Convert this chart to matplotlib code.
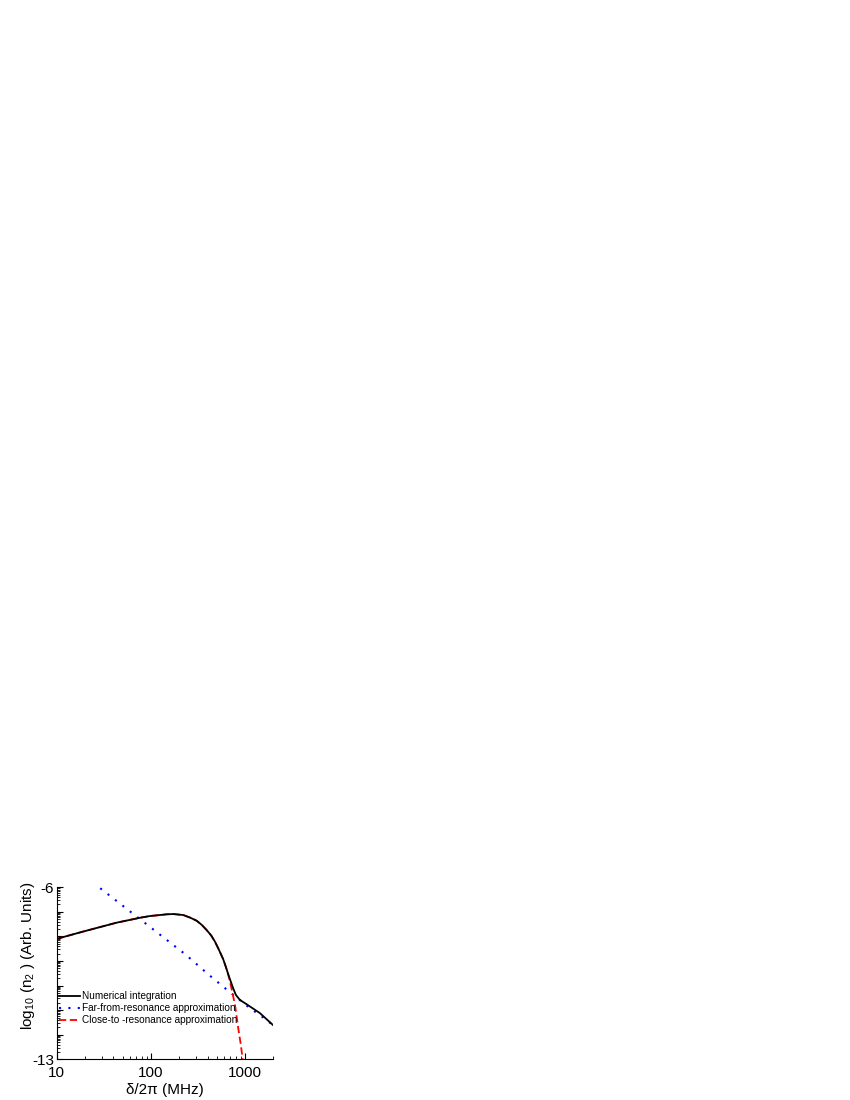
import numpy as np
import matplotlib
matplotlib.use('Agg')
import matplotlib.pyplot as plt
from matplotlib.ticker import LogLocator, FixedLocator, FuncFormatter, NullFormatter

plt.rcParams['font.family'] = ['Liberation Sans', 'DejaVu Sans']
plt.rcParams['mathtext.fontset'] = 'custom'
plt.rcParams['mathtext.rm'] = 'Liberation Sans'
plt.rcParams['mathtext.it'] = 'Liberation Sans'
plt.rcParams['axes.unicode_minus'] = False

# numerical integration (delta/2pi in MHz, log10 n2)
num_freq = [10, 19.2, 43.4, 77, 98, 125, 148, 173, 221, 263, 306, 347, 391, 437, 479,
            525, 587, 631, 664, 708, 750, 800, 847, 871, 912, 1040, 1439, 2000]
num_logn = [-8.10, -7.80, -7.44, -7.24, -7.17, -7.13, -7.10, -7.09, -7.13, -7.24, -7.36,
            -7.53, -7.74, -7.96, -8.21, -8.52, -8.93, -9.28, -9.55, -9.85, -10.12, -10.38,
            -10.50, -10.56, -10.62, -10.76, -11.12, -11.62]

# far-from-resonance approximation
far_freq = [29, 236, 406, 692, 1127, 1439, 2000]
far_logn = [-6.04, -8.75, -9.54, -10.27, -10.92, -11.20, -11.62]

# close-to-resonance approximation
close_freq = [10, 19.2, 43.4, 77, 98, 125, 148, 173, 221, 263, 306, 347, 391, 437, 479,
              525, 587, 631, 664, 708, 782, 847, 902, 944]
close_logn = [-8.10, -7.80, -7.44, -7.24, -7.17, -7.13, -7.10, -7.09, -7.13, -7.24, -7.36,
              -7.53, -7.74, -7.96, -8.21, -8.52, -8.93, -9.28, -9.55, -10.00, -10.78,
              -11.73, -12.40, -13.00]

fig = plt.figure(figsize=(8.5, 11), dpi=100)
ax = fig.add_axes([0.0667, 0.0370, 0.2549, 0.1564])

ax.plot(num_freq, 10.0 ** np.array(num_logn), color='black', lw=1.3,
        label='Numerical integration', zorder=3)
ax.plot(far_freq, 10.0 ** np.array(far_logn), color='blue', lw=1.5,
        linestyle=(0, (1, 3.5)), label='Far-from-resonance approximation', zorder=2)
ax.plot(close_freq, 10.0 ** np.array(close_logn), color='red', lw=1.3,
        linestyle=(0, (4, 2)), label='Close-to -resonance approximation', zorder=2)

ax.set_xscale('log')
ax.set_yscale('log')
ax.set_xlim(10, 2000)
ax.set_ylim(1e-13, 1e-6)

ax.xaxis.set_major_locator(FixedLocator([10, 100, 1000]))
ax.xaxis.set_major_formatter(FuncFormatter(lambda v, p: '%d' % round(v)))
ax.xaxis.set_minor_locator(LogLocator(base=10, subs=np.arange(2, 10)))
ax.xaxis.set_minor_formatter(NullFormatter())

ax.yaxis.set_major_locator(FixedLocator([10.0 ** k for k in range(-13, -5)]))
ax.yaxis.set_major_formatter(FuncFormatter(
    lambda v, p: '%d' % round(np.log10(v)) if round(np.log10(v)) in (-6, -13) else ''))
ax.yaxis.set_minor_locator(LogLocator(base=10, subs=np.arange(2, 10), numticks=20))
ax.yaxis.set_minor_formatter(NullFormatter())

ax.tick_params(which='major', direction='in', length=4, width=0.8, labelsize=11)
ax.tick_params(axis='x', which='major', pad=5)
ax.tick_params(axis='y', which='major', pad=2)
ax.tick_params(which='minor', direction='in', length=2, width=0.6)
ax.spines['top'].set_visible(False)
ax.spines['right'].set_visible(False)

ax.set_xlabel('δ/2π (MHz)', fontsize=11, labelpad=2)
ax.set_ylabel(r'log$_{\mathregular{10}}$ (n$_{\mathregular{2}}$ ) (Arb. Units)', fontsize=11)
ax.yaxis.set_label_coords(-0.09, 0.60)

ax.legend(loc='upper left', bbox_to_anchor=(0.011, 0.395), frameon=False, fontsize=7.2,
          handlelength=2.1, handletextpad=0.2, labelspacing=0.2,
          borderpad=0, borderaxespad=0)

fig.savefig('out.png', dpi=100)
